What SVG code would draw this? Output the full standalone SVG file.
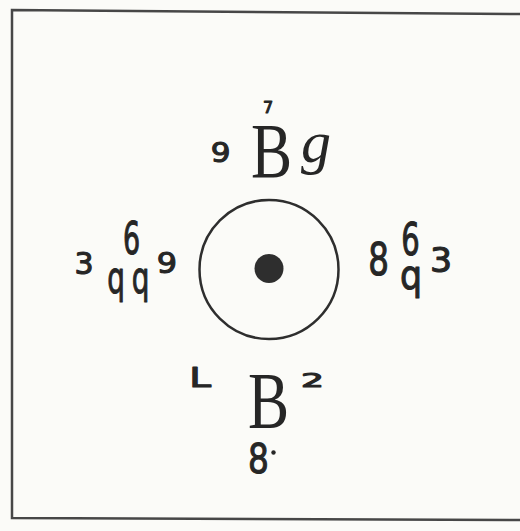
<svg xmlns="http://www.w3.org/2000/svg" width="520" height="531" viewBox="0 0 520 531">
<style>
.h{font-family:"DejaVu Sans","Liberation Sans",sans-serif;fill:#262626;stroke:#262626;stroke-width:1.1;stroke-linejoin:round;text-anchor:middle}
.b{font-family:"Liberation Serif","DejaVu Serif",serif;fill:#262626;text-anchor:middle}
</style>
<rect width="520" height="531" fill="#fbfbf8"/>
<path d="M520 14 L12 10 L12 518 L520 520" fill="none" stroke="#474747" stroke-width="2.5"/>
<g id="ring">
<circle cx="269" cy="269.5" r="69.5" fill="none" stroke="#2e2e2e" stroke-width="2.5"/>
<circle cx="269" cy="268.5" r="14.5" fill="#2e2e2e"/>
</g>
<g id="top">
<text class="h" font-size="16" transform="translate(268,113)">7</text>
<text class="h" font-size="27" transform="translate(220.5,162) scale(1.15,1)">9</text>
<text class="b" font-size="78" transform="translate(271.5,177) scale(0.79,1)">B</text>
<text class="b" font-size="60" font-style="italic" transform="translate(316,162)">g</text>
</g>
<g id="left">
<text class="h" font-size="30" transform="translate(84,274)">3</text>
<text class="h" font-size="45" transform="translate(131.5,254) scale(0.6,1)">6</text>
<text class="h" font-size="45" transform="translate(116,292.6) scale(0.62,1)">q</text>
<text class="h" font-size="45" transform="translate(140.5,292.6) scale(0.62,1)">q</text>
<text class="h" font-size="29" transform="translate(167,273) scale(1.1,1)">9</text>
</g>
<g id="right">
<text class="h" font-size="44" transform="translate(378.5,275) scale(0.74,1)">8</text>
<text class="h" font-size="44" transform="translate(410.5,255) scale(0.66,1)">6</text>
<text class="h" font-size="41" transform="translate(411,289.4) scale(0.85,1)">q</text>
<text class="h" font-size="33" transform="translate(441,272) scale(1.05,1)">3</text>
</g>
<g id="bottom">
<text class="h" font-size="26" transform="translate(200,387) scale(1.5,1)">L</text>
<text class="b" font-size="80" transform="translate(268.5,428) scale(0.77,1)">B</text>
<text class="h" font-size="19" transform="translate(312.5,387) scale(1.9,1)">2</text>
<text class="h" font-size="41" transform="translate(258.5,473) scale(0.8,1)">8</text>
<circle cx="273.5" cy="452.5" r="2.2" fill="#262626"/>
</g>
<g id="connectors"/>
</svg>
